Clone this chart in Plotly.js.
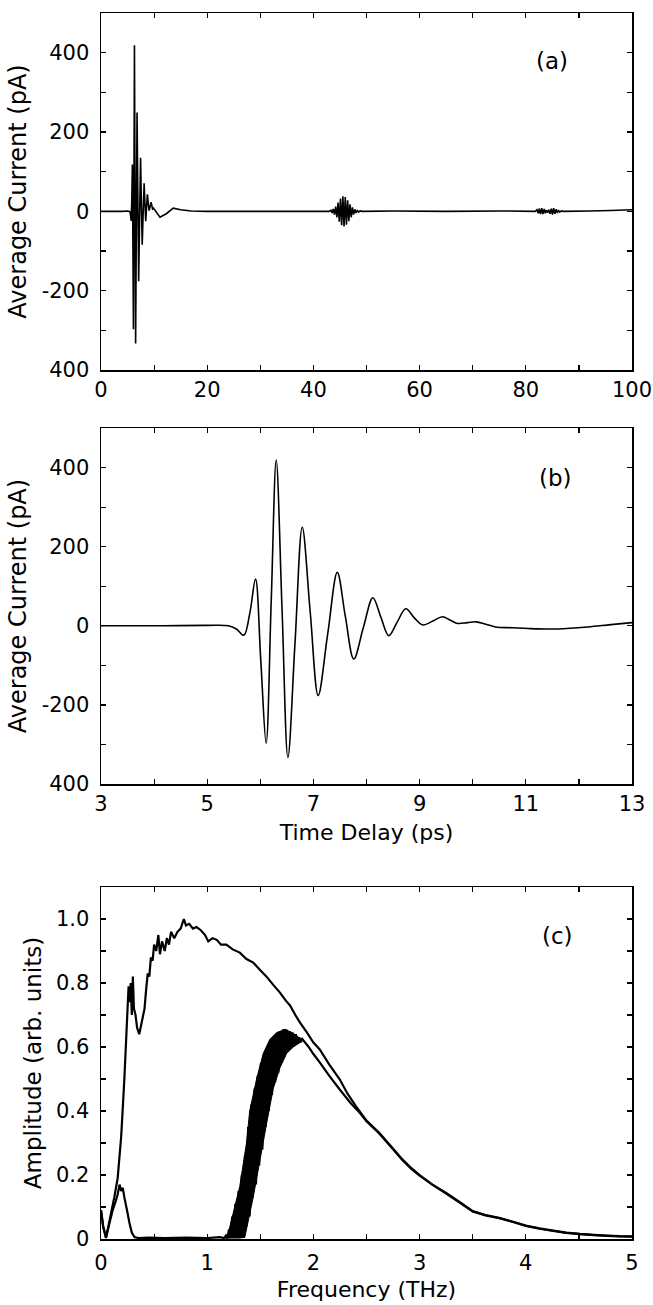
<!DOCTYPE html>
<html>
<head>
<meta charset="utf-8">
<script src="https://cdn.plot.ly/plotly-3.0.1.min.js"></script>
<style>html,body{margin:0;padding:0;background:#fff}#chart{width:653px;height:1305px}</style>
</head>
<body>
<div id="chart"></div>
<script>
// ---------- Panel (b): zoom on main pulse ----------
var timeB = [3.0, 4.0, 5.0, 5.4, 5.55, 5.69, 5.8, 5.91, 6.01, 6.11, 6.205, 6.30, 6.41, 6.52, 6.655, 6.79, 6.94, 7.09, 7.27, 7.45, 7.60, 7.76, 7.94, 8.12, 8.27, 8.42, 8.58, 8.74, 8.90, 9.06, 9.25, 9.43, 9.58, 9.71, 9.9, 10.06, 10.25, 10.43, 10.75, 11.05, 11.6, 12.17, 12.6, 13.0];
var currentB = [0, 0, 1, 0, -8, -24, 30, 118, -90, -297, 60, 419, 40, -333, -40, 249, 35, -176, -20, 135, 25, -84, -5, 71, 22, -25, 10, 43, 20, 2, 12, 23, 14, 6, 8, 10, 4, -3, -5, -7, -8, -3, 3, 8];

// ---------- Panel (a): full scan 0-100 ps ----------
var timeA = [0, 2, 4, 5.0, 5.4, 5.55, 5.69, 5.8, 5.91, 6.01, 6.11, 6.205, 6.30, 6.41, 6.52, 6.655, 6.79, 6.94, 7.09, 7.27, 7.45, 7.60, 7.76, 7.94, 8.12, 8.27, 8.42, 8.58, 8.74, 8.90, 9.06, 9.25, 9.43, 9.58, 9.71, 9.9, 10.2, 11.1, 12.3, 13.6, 15.0, 17.0, 20, 30, 40,
  43.0, 43.3, 43.52, 43.75, 43.97, 44.2, 44.42, 44.65, 44.87, 45.1, 45.32, 45.55, 45.77, 46.0, 46.22, 46.45, 46.67, 46.9, 47.12, 47.35, 47.57, 47.8, 48.02, 48.25, 48.5, 48.8, 49.2,
  55, 65, 75, 81.8,
  82.1, 82.33, 82.55, 82.77, 83.0, 83.22, 83.45, 83.67, 83.9, 84.12, 84.35, 84.57, 84.8, 85.02, 85.25, 85.47, 85.7, 85.92, 86.15, 86.4, 86.7, 87.0,
  92, 96, 100];
var currentA = [0, 0, 0, 1, 0, -8, -24, 30, 118, -90, -297, 60, 419, 40, -333, -40, 249, 35, -176, -20, 135, 25, -84, -5, 71, 22, -25, 10, 43, 20, 2, 12, 23, 14, 6, 8, 2, -15, -6, 8, 4, 1, 0, 0, 0,
  0, 3, -4, 6, -8, 12, -15, 22, -26, 32, -35, 38, -38, 36, -34, 28, -25, 18, -15, 10, -8, 5, -4, 3, -2, 1, 0,
  1, 0, 1, 0,
  4, -5, 7, -7, 8, -7, 6, -5, 3, -3, 4, -6, 7, -8, 8, -6, 5, -4, 3, -2, 1, 0,
  1, 2, 4];

// ---------- Panel (c): amplitude spectra ----------
var freqRef = [0.000, 0.020, 0.047, 0.070, 0.094, 0.125, 0.157, 0.190, 0.220, 0.235, 0.250, 0.260, 0.267, 0.280, 0.290, 0.300, 0.310, 0.325, 0.340, 0.360, 0.385, 0.410, 0.425, 0.440, 0.455, 0.470, 0.486, 0.500, 0.520, 0.540, 0.555, 0.575, 0.600, 0.620, 0.640, 0.660, 0.690, 0.720, 0.750, 0.780, 0.800, 0.830, 0.866, 0.900, 0.940, 0.980, 1.010, 1.050, 1.090, 1.130, 1.180, 1.240, 1.307, 1.370, 1.433, 1.500, 1.559, 1.620, 1.685, 1.740, 1.780, 1.830, 1.874, 1.940, 2.000, 2.058, 2.150, 2.246, 2.320, 2.400, 2.500, 2.620, 2.730, 2.840, 2.920, 3.000, 3.120, 3.250, 3.380, 3.500, 3.620, 3.750, 3.880, 4.000, 4.130, 4.260, 4.380, 4.510, 4.640, 4.760, 4.880, 5.000];
var ampRef = [0.09, 0.04, 0.005, 0.04, 0.08, 0.13, 0.19, 0.32, 0.50, 0.61, 0.72, 0.79, 0.74, 0.80, 0.70, 0.82, 0.72, 0.70, 0.66, 0.64, 0.68, 0.72, 0.78, 0.83, 0.82, 0.88, 0.87, 0.92, 0.90, 0.95, 0.89, 0.93, 0.90, 0.94, 0.92, 0.96, 0.94, 0.96, 0.97, 1.00, 0.98, 0.985, 0.97, 0.975, 0.965, 0.95, 0.93, 0.94, 0.935, 0.92, 0.92, 0.905, 0.895, 0.875, 0.864, 0.84, 0.82, 0.795, 0.77, 0.745, 0.73, 0.70, 0.676, 0.645, 0.614, 0.593, 0.545, 0.50, 0.455, 0.415, 0.37, 0.332, 0.29, 0.248, 0.222, 0.20, 0.17, 0.144, 0.115, 0.087, 0.075, 0.066, 0.054, 0.042, 0.033, 0.026, 0.020, 0.016, 0.013, 0.011, 0.009, 0.008];

var freqSample = [0.000, 0.020, 0.047, 0.080, 0.110, 0.140, 0.157, 0.175, 0.190, 0.205, 0.220, 0.245, 0.268, 0.290, 0.315, 0.350, 0.450, 0.600, 0.800, 1.000, 1.120, 1.160,
  1.175, 1.190, 1.205, 1.220, 1.235, 1.250, 1.265, 1.280, 1.295, 1.310, 1.325, 1.340, 1.355, 1.370, 1.385, 1.400, 1.415, 1.430, 1.445, 1.460, 1.475, 1.490, 1.505, 1.520, 1.535, 1.550, 1.565, 1.580, 1.595, 1.610, 1.625, 1.640, 1.655, 1.670, 1.685, 1.700, 1.715, 1.730, 1.745, 1.760, 1.775, 1.790, 1.805, 1.820, 1.835, 1.850, 1.865, 1.880, 1.895,
  1.920, 1.960, 2.000, 2.058, 2.150, 2.246, 2.350, 2.434, 2.500, 2.620, 2.730, 2.840, 2.920, 3.000, 3.120, 3.250, 3.380, 3.500, 3.620, 3.750, 3.880, 4.000, 4.130, 4.260, 4.380, 4.510, 4.640, 4.760, 4.880, 5.000];
var ampSample = [0.09, 0.04, 0.003, 0.05, 0.09, 0.12, 0.14, 0.17, 0.15, 0.16, 0.13, 0.09, 0.05, 0.02, 0.006, 0.003, 0.004, 0.003, 0.004, 0.003, 0.006, 0.003,
  0.01, 0.002, 0.03, 0.003, 0.07, 0.004, 0.11, 0.005, 0.15, 0.01, 0.20, 0.02, 0.26, 0.04, 0.35, 0.07, 0.42, 0.13, 0.47, 0.17, 0.51, 0.23, 0.55, 0.28, 0.58, 0.35, 0.60, 0.40, 0.62, 0.45, 0.63, 0.49, 0.64, 0.52, 0.65, 0.55, 0.655, 0.57, 0.655, 0.59, 0.65, 0.60, 0.645, 0.605, 0.64, 0.61, 0.63, 0.615, 0.625,
  0.615, 0.598, 0.578, 0.553, 0.51, 0.468, 0.425, 0.395, 0.368, 0.33, 0.288, 0.246, 0.22, 0.198, 0.17, 0.142, 0.113, 0.086, 0.074, 0.065, 0.053, 0.041, 0.032, 0.025, 0.019, 0.015, 0.012, 0.010, 0.008, 0.007];

// Envelope of the dense fringe band of the sample spectrum (1.16-1.9 THz)
var bandTopFreq = [1.16, 1.20, 1.244, 1.307, 1.37, 1.40, 1.465, 1.528, 1.59, 1.654, 1.732, 1.80, 1.87, 1.895];
var bandTopAmp = [0.003, 0.02, 0.08, 0.165, 0.30, 0.40, 0.50, 0.58, 0.624, 0.645, 0.655, 0.645, 0.628, 0.625];
var bandBottomFreq = [1.16, 1.30, 1.354, 1.433, 1.496, 1.559, 1.622, 1.685, 1.748, 1.811, 1.874, 1.895];
var bandBottomAmp = [0.003, 0.003, 0.005, 0.13, 0.24, 0.36, 0.47, 0.535, 0.58, 0.60, 0.614, 0.62];

// ---------- Tick labels ----------
var currentTickVals = [-400, -300, -200, -100, 0, 100, 200, 300, 400, 500];
var currentTickText = ['400', '', '-200', '', '0', '', '200', '', '400', ''];
var timeTickValsA = [0, 10, 20, 30, 40, 50, 60, 70, 80, 90, 100];
var timeTickTextA = ['0', '', '20', '', '40', '', '60', '', '80', '', '100'];
var timeTickValsB = [3, 4, 5, 6, 7, 8, 9, 10, 11, 12, 13];
var timeTickTextB = ['3', '', '5', '', '7', '', '9', '', '11', '', '13'];
var freqTickVals = [0, 0.5, 1, 1.5, 2, 2.5, 3, 3.5, 4, 4.5, 5];
var freqTickText = ['0', '', '1', '', '2', '', '3', '', '4', '', '5'];
var ampTickVals = [0, 0.1, 0.2, 0.3, 0.4, 0.5, 0.6, 0.7, 0.8, 0.9, 1.0, 1.1];
var ampTickText = ['0', '', '0.2', '', '0.4', '', '0.6', '', '0.8', '', '1.0', ''];

var FONT = 'DejaVu Sans, Liberation Sans, Arial, sans-serif';

function axisBase(extra) {
  var a = {
    showline: true, linecolor: '#000', linewidth: 1.5, mirror: 'ticks',
    ticks: 'inside', ticklen: 5, tickwidth: 1.2, tickcolor: '#000',
    showgrid: false, zeroline: false, tickmode: 'array',
    tickfont: {family: FONT, size: 21, color: '#000'},
    fixedrange: true
  };
  for (var k in extra) a[k] = extra[k];
  return a;
}

var bandX = bandTopFreq.concat(bandBottomFreq.slice().reverse());
var bandY = bandTopAmp.concat(bandBottomAmp.slice().reverse());

var traces = [
  {x: timeA, y: currentA, xaxis: 'x', yaxis: 'y', type: 'scatter', mode: 'lines',
   line: {color: '#000', width: 1.6, simplify: false}, hoverinfo: 'skip'},
  {x: timeB, y: currentB, xaxis: 'x2', yaxis: 'y2', type: 'scatter', mode: 'lines',
   line: {color: '#000', width: 1.6, shape: 'spline', simplify: false}, hoverinfo: 'skip'},
  {x: bandX, y: bandY, xaxis: 'x3', yaxis: 'y3', type: 'scatter', mode: 'lines',
   fill: 'toself', fillcolor: '#000', line: {color: '#000', width: 1}, hoverinfo: 'skip'},
  {x: freqRef, y: ampRef, xaxis: 'x3', yaxis: 'y3', type: 'scatter', mode: 'lines',
   line: {color: '#000', width: 2.2, simplify: false}, hoverinfo: 'skip'},
  {x: freqSample, y: ampSample, xaxis: 'x3', yaxis: 'y3', type: 'scatter', mode: 'lines',
   line: {color: '#000', width: 2.2, simplify: false}, hoverinfo: 'skip'}
];

var layout = {
  width: 653, height: 1305,
  margin: {l: 101, r: 21, t: 13, b: 66},
  paper_bgcolor: '#fff', plot_bgcolor: '#fff',
  showlegend: false,
  font: {family: FONT, color: '#000'},
  xaxis: axisBase({anchor: 'y', domain: [0, 1], range: [0, 100], tickvals: timeTickValsA, ticktext: timeTickTextA}),
  yaxis: axisBase({anchor: 'x', domain: [0.7088, 1], range: [-400, 500], tickvals: currentTickVals, ticktext: currentTickText, ticklabelstandoff: 6,
    title: {text: 'Average Current (pA)', font: {family: FONT, size: 24, color: '#000'}, standoff: 8}}),
  xaxis2: axisBase({anchor: 'y2', domain: [0, 1], range: [3, 13], tickvals: timeTickValsB, ticktext: timeTickTextB,
    title: {text: 'Time Delay (ps)', font: {family: FONT, size: 22, color: '#000'}, standoff: 10}}),
  yaxis2: axisBase({anchor: 'x2', domain: [0.3711, 0.6615], range: [-400, 500], tickvals: currentTickVals, ticktext: currentTickText, ticklabelstandoff: 6,
    title: {text: 'Average Current (pA)', font: {family: FONT, size: 24, color: '#000'}, standoff: 8}}),
  xaxis3: axisBase({anchor: 'y3', domain: [0, 1], range: [0, 5], tickvals: freqTickVals, ticktext: freqTickText, ticklabelstandoff: 4,
    title: {text: 'Frequency (THz)', font: {family: FONT, size: 22, color: '#000'}, standoff: 8}}),
  yaxis3: axisBase({anchor: 'x3', domain: [0, 0.2871], range: [0, 1.1], tickvals: ampTickVals, ticktext: ampTickText, ticklabelstandoff: 6,
    title: {text: 'Amplitude (arb. units)', font: {family: FONT, size: 23, color: '#000'}, standoff: 8}}),
  annotations: [
    {text: '(a)', xref: 'x', yref: 'y', x: 85, y: 380, showarrow: false, font: {family: FONT, size: 23, color: '#000'}},
    {text: '(b)', xref: 'x2', yref: 'y2', x: 11.55, y: 374, showarrow: false, font: {family: FONT, size: 23, color: '#000'}},
    {text: '(c)', xref: 'x3', yref: 'y3', x: 4.3, y: 0.947, showarrow: false, font: {family: FONT, size: 23, color: '#000'}}
  ]
};

Plotly.newPlot('chart', traces, layout, {displayModeBar: false, staticPlot: true});
</script>
</body>
</html>
